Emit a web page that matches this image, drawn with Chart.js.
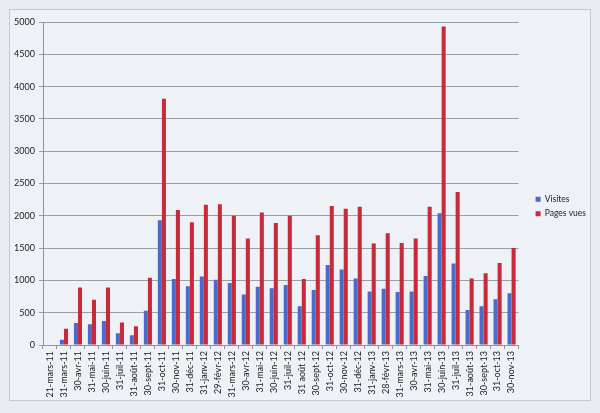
<!DOCTYPE html>
<html><head><meta charset="utf-8">
<script src="https://cdn.jsdelivr.net/npm/chart.js@4.4.0/dist/chart.umd.min.js"></script>
<style>html,body{margin:0;padding:0;background:#e9ecf2;}#c{display:block;}</style>
</head><body>
<canvas id="c" width="600" height="413"></canvas>
<script>
const categories = ["21-mars-11","31-mars-11","30-avr-11","31-mai-11","30-juin-11","31-juil-11","31-août-11","30-sept-11","31-oct-11","30-nov-11","31-déc-11","31-janv-12","29-févr-12","31-mars-12","30-avr-12","31-mai-12","30-juin-12","31-juil-12","31 août 12","30-sept-12","31-oct-12","30-nov-12","31-déc-12","31-janv-13","28-févr-13","31-mars-13","30-avr-13","31-mai-13","30-juin-13","31-juil-13","31-août-13","30-sept-13","31-oct-13","30-nov-13"];
const visites = [0,80,340,320,370,180,150,530,1930,1020,910,1060,1010,960,780,900,880,930,600,850,1240,1170,1030,830,870,820,830,1070,2040,1260,540,600,710,800];
const pagesVues = [0,250,890,700,890,350,290,1040,3810,2090,1900,2170,2180,2000,1650,2050,1890,2000,1020,1700,2150,2110,2140,1570,1730,1580,1650,2140,4930,2370,1030,1110,1270,1500];
const yTicks = [0,500,1000,1500,2000,2500,3000,3500,4000,4500,5000];

const bgPlugin = {
  id: 'bg',
  beforeDraw(chart) {
    const ctx = chart.ctx;
    ctx.save();
    ctx.fillStyle = '#e9ecf2';
    ctx.fillRect(0, 0, chart.width, chart.height);
    ctx.fillStyle = '#eef1f6';
    ctx.fillRect(9, 9, 581, 391);
    ctx.strokeStyle = '#c4c8d1';
    ctx.lineWidth = 1;
    ctx.strokeRect(9.5, 9.5, 581, 391);
    ctx.restore();
  }
};

// nudge the built-in legend so it sits in the right margin like the original
const legendShift = {
  id: 'legendShift',
  afterLayout(chart) {
    const lg = chart.legend;
    if (!lg) return;
    const dx = 11, dy = -6;
    const off = chart.chartArea.right + dx - lg.left;
    lg.left += off; lg.right += off;
    lg.top += dy; lg.bottom += dy;
  }
};

new Chart(document.getElementById('c'), {
  type: 'bar',
  data: {
    labels: categories,
    datasets: [
      { label: 'Visites', data: visites, backgroundColor: '#4a6bc6', borderWidth: 0 },
      { label: 'Pages vues', data: pagesVues, backgroundColor: '#c92a3a', borderWidth: 0 }
    ]
  },
  options: {
    responsive: false,
    animation: false,
    devicePixelRatio: 1,
    layout: { padding: { left: 14, top: 22, right: 15, bottom: 10 } },
    datasets: { bar: { categoryPercentage: 0.58, barPercentage: 1.0 } },
    plugins: {
      legend: {
        position: 'right',
        labels: {
          boxWidth: 5, boxHeight: 5, padding: 6,
          font: { family: 'Lato', size: 8.5 }, color: '#222'
        }
      },
      tooltip: { enabled: false }
    },
    scales: {
      x: {
        grid: { offset: true, drawOnChartArea: false, drawTicks: true, tickLength: 4, color: '#8e939c' },
        border: { color: '#8e939c' },
        ticks: { minRotation: 90, maxRotation: 90, autoSkip: false, font: { family: 'Lato', size: 9 }, color: '#222', padding: 2 },
        afterFit(s) { s.height = 58; }
      },
      y: {
        min: 0, max: 5000,
        afterBuildTicks(s) { s.ticks = yTicks.map(v => ({ value: v })); },
        grid: { color: '#9a9ea7', tickLength: 4 },
        border: { color: '#8e939c' },
        ticks: { font: { family: 'Lato', size: 9 }, color: '#222', padding: 4, callback: v => String(v) },
        afterFit(s) { s.width = 29; }
      }
    }
  },
  plugins: [bgPlugin, legendShift]
});
</script>
</body></html>
